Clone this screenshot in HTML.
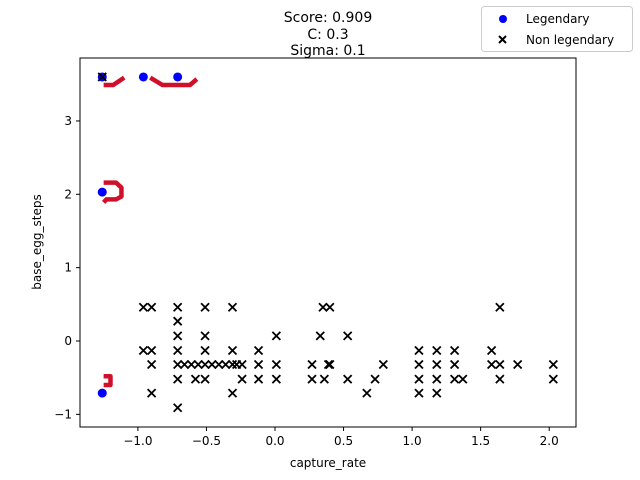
<!DOCTYPE html>
<html><head><meta charset="utf-8"><style>
body{margin:0;background:#fff;}
svg{display:block;font-family:"DejaVu Sans","Liberation Sans",sans-serif;}
</style></head><body>
<svg id="chart" width="640" height="480">
<rect x="0" y="0" width="640" height="480" fill="#fff"/>
<g id="plot"></g>
<rect x="80" y="58" width="496" height="369" fill="none" stroke="#000" stroke-width="1"/>
<g id="axes"></g>
<text x="328" y="22" text-anchor="middle" font-size="14">Score: 0.909</text>
<text x="328" y="39" text-anchor="middle" font-size="14">C: 0.3</text>
<text x="328" y="55" text-anchor="middle" font-size="14">Sigma: 0.1</text>
<text x="328" y="467" text-anchor="middle" font-size="12">capture_rate</text>
<text x="0" y="0" transform="translate(41,242) rotate(-90)" text-anchor="middle" font-size="12">base_egg_steps</text>
<g>
<rect x="481.5" y="6.5" width="151" height="45" rx="3" fill="#fff" stroke="#ccc"/>
<circle cx="503" cy="19" r="4" fill="#0000ff"/>
<text x="526" y="23" font-size="12">Legendary</text>
<path d="M499,36 l7,7 M506,36 l-7,7" stroke="#000" stroke-width="2"/>
<text x="526" y="44" font-size="12">Non legendary</text>
</g>
</svg>
<script>
const nonX=[-1.26,-0.96,-0.90,-0.71,-0.51,-0.31,0.35,0.40,1.64,
-0.71,
-0.71,-0.51,0.01,0.33,0.53,
-0.96,-0.90,-0.71,-0.51,-0.31,-0.12,1.05,1.18,1.31,1.58,
-0.90,-0.71,-0.66,-0.61,-0.56,-0.51,-0.46,-0.41,-0.36,-0.31,-0.28,-0.24,-0.12,0.01,0.27,0.39,0.40,0.79,1.05,1.18,1.31,1.58,1.64,1.77,2.03,
-0.71,-0.58,-0.51,-0.24,-0.12,0.01,0.27,0.36,0.53,0.73,1.05,1.18,1.31,1.37,1.64,2.03,
-0.90,-0.31,0.67,1.05,1.18,
-0.71];
const nonY=[3.60,0.46,0.46,0.46,0.46,0.46,0.46,0.46,0.46,
0.27,
0.07,0.07,0.07,0.07,0.07,
-0.13,-0.13,-0.13,-0.13,-0.13,-0.13,-0.13,-0.13,-0.13,-0.13,
-0.32,-0.32,-0.32,-0.32,-0.32,-0.32,-0.32,-0.32,-0.32,-0.32,-0.32,-0.32,-0.32,-0.32,-0.32,-0.32,-0.32,-0.32,-0.32,-0.32,-0.32,-0.32,-0.32,-0.32,-0.32,
-0.52,-0.52,-0.52,-0.52,-0.52,-0.52,-0.52,-0.52,-0.52,-0.52,-0.52,-0.52,-0.52,-0.52,-0.52,-0.52,
-0.71,-0.71,-0.71,-0.71,-0.71,
-0.91];
const legX=[-1.26,-0.96,-0.71,-1.26,-1.26];
const legY=[3.60,3.60,3.60,2.03,-0.71];
const xTicks=[-1.0,-0.5,0.0,0.5,1.0,1.5,2.0];
const xTickLabels=["\u22121.0","\u22120.5","0.0","0.5","1.0","1.5","2.0"];
const yTicks=[-1,0,1,2,3];
const yTickLabels=["\u22121","0","1","2","3"];
const boundX=[[-1.25,-1.18,-1.10],[-0.91,-0.82,-0.62,-0.57],[-1.25,-1.16,-1.12,-1.12,-1.16,-1.23,-1.25],[-1.25,-1.20,-1.20,-1.25]];
const boundY=[[3.49,3.49,3.59],[3.59,3.49,3.49,3.57],[2.16,2.16,2.09,1.97,1.93,1.93,1.89],[-0.48,-0.48,-0.60,-0.60]];
const sx=v=>275+v*137.1, sy=v=>341-v*73.35;
const NS="http://www.w3.org/2000/svg";
const plot=document.getElementById('plot'), axes=document.getElementById('axes');
function mk(t,a,p){const e=document.createElementNS(NS,t);for(const k in a)e.setAttribute(k,a[k]);p.appendChild(e);return e;}
boundX.forEach((bx,i)=>{
 const e=mk('polyline',{points:bx.map((v,j)=>sx(v)+','+sy(boundY[i][j])).join(' '),fill:'none',stroke:'#d0102a','stroke-width':4.5,'stroke-linejoin':'round'},plot);
 
 
});
legX.forEach((v,i)=>{
 const e=mk('circle',{cx:sx(v),cy:sy(legY[i]),r:4.5,fill:'#0000ff'},plot);
 
 
});
nonX.forEach((v,i)=>{
 const x=sx(v),y=sy(nonY[i]);
 const e=mk('path',{d:`M${x-4},${y-4}L${x+4},${y+4}M${x+4},${y-4}L${x-4},${y+4}`,stroke:'#000','stroke-width':1.8},plot);
 
 
});
xTicks.forEach((v,i)=>{
 const x=sx(v);
 const l=mk('line',{x1:x,x2:x,y1:427,y2:431,stroke:'#000'},axes);
 
 
 const t=mk('text',{x:x,y:445,'text-anchor':'middle','font-size':12},axes);t.textContent=xTickLabels[i];
 
 
});
yTicks.forEach((v,i)=>{
 const y=sy(v);
 const l=mk('line',{x1:76,x2:80,y1:y,y2:y,stroke:'#000'},axes);
 
 
 const t=mk('text',{x:72,y:y+4,'text-anchor':'end','font-size':12},axes);t.textContent=yTickLabels[i];
 
 
});
</script>
</body></html>
